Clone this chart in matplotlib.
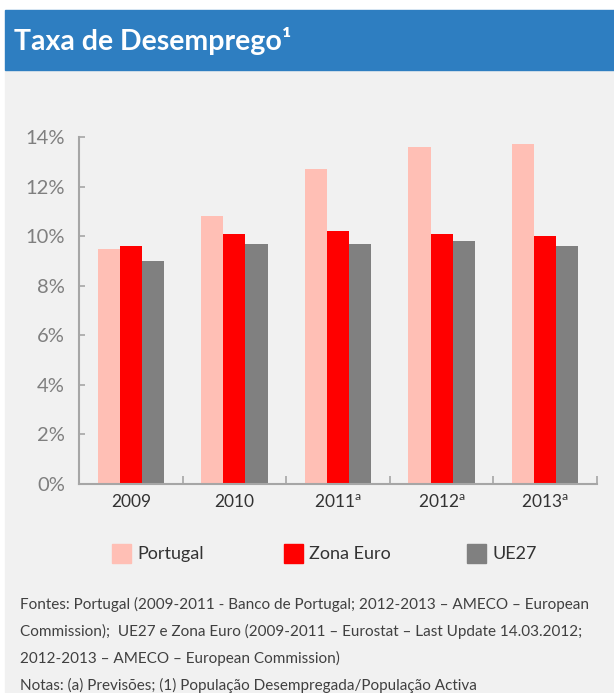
import numpy as np
import matplotlib.pyplot as plt
from matplotlib.patches import Rectangle

plt.rcParams['font.family'] = ['Lato', 'DejaVu Sans']
plt.rcParams['mathtext.fontset'] = 'custom'
plt.rcParams['mathtext.rm'] = 'Lato'

# Data
years = ['2009', '2010', '2011', '2012', '2013']
forecast = [False, False, True, True, True]
portugal = [9.5, 10.8, 12.7, 13.6, 13.7]
zona_euro = [9.6, 10.1, 10.2, 10.1, 10.0]
ue27 = [9.0, 9.7, 9.7, 9.8, 9.6]
series_names = ['Portugal', 'Zona Euro', 'UE27']
series_colors = ['#ffbfb5', '#ff0000', '#808080']
y_ticks = [0, 2, 4, 6, 8, 10, 12, 14]

notes = ['Fontes: Portugal (2009-2011 - Banco de Portugal; 2012-2013 \u2013 AMECO \u2013 European',
         'Commission);  UE27 e Zona Euro (2009-2011 \u2013 Eurostat \u2013 Last Update 14.03.2012;',
         '2012-2013 \u2013 AMECO \u2013 European Commission)',
         'Notas: (a) Previs\u00f5es; (1) Popula\u00e7\u00e3o Desempregada/Popula\u00e7\u00e3o Activa']

W, H = 614, 693
fig = plt.figure(figsize=(W / 100, H / 100), dpi=100)


def fx(px):
    return px / W


def fy(py):
    return 1 - py / H


# panel background and title bar
fig.add_artist(Rectangle((fx(5), 0), 1 - fx(5), fy(70), transform=fig.transFigure,
                         color='#f1f1f1', zorder=0))
fig.add_artist(Rectangle((fx(5), fy(70)), 1 - fx(5), fy(10) - fy(70), transform=fig.transFigure,
                         color='#2e7ec1', zorder=0))
fig.text(fx(14), fy(41), 'Taxa de Desemprego\u00b9', color='white', fontsize=20.5,
         fontweight='bold', va='center', ha='left')

ax = fig.add_axes([fx(79), fy(484), fx(597) - fx(79), fy(137) - fy(484)])
ax.set_facecolor('none')

x = np.arange(len(years))
w = 0.213
for i, (vals, name, col) in enumerate(zip([portugal, zona_euro, ue27], series_names, series_colors)):
    ax.bar(x + (i - 1) * w, vals, w, color=col, label=name, zorder=2)

ax.set_xlim(-0.5, len(years) - 0.5)
ax.set_ylim(0, 14)
for s in ['top', 'right']:
    ax.spines[s].set_visible(False)
for s in ['left', 'bottom']:
    ax.spines[s].set_color('#a6a6a6')
    ax.spines[s].set_linewidth(1.5)

xlabels = [y + ('$^{\\mathrm{a}}$' if f else '') for y, f in zip(years, forecast)]
ax.set_xticks(x, xlabels)
ax.set_xticks(np.arange(-0.5, len(years)), minor=True)
ax.tick_params(axis='x', which='major', length=0, pad=7, labelsize=12.5, labelcolor='#333333')
ax.tick_params(axis='x', which='minor', direction='in', length=6, width=1.2, color='#a6a6a6')

ax.set_yticks(y_ticks, [f'{t}%' for t in y_ticks])
ax.tick_params(axis='y', direction='in', length=4, width=1.2, color='#a6a6a6',
               pad=10, labelsize=14.5, labelcolor='#7f7f7f')

# legend
legend_x = [112, 284, 467]
for px, name, col in zip(legend_x, series_names, series_colors):
    fig.add_artist(Rectangle((fx(px), fy(563)), fx(19), 19 / H, transform=fig.transFigure,
                             color=col))
    fig.text(fx(px + 25), fy(554), name, fontsize=13, color='#333333', va='center', ha='left')

# notes
for k, line in enumerate(notes):
    fig.text(fx(20), fy(604 + 27 * k), line, fontsize=11, color='#404040', va='center', ha='left')

fig.savefig('out.png', dpi=100, facecolor='white')
